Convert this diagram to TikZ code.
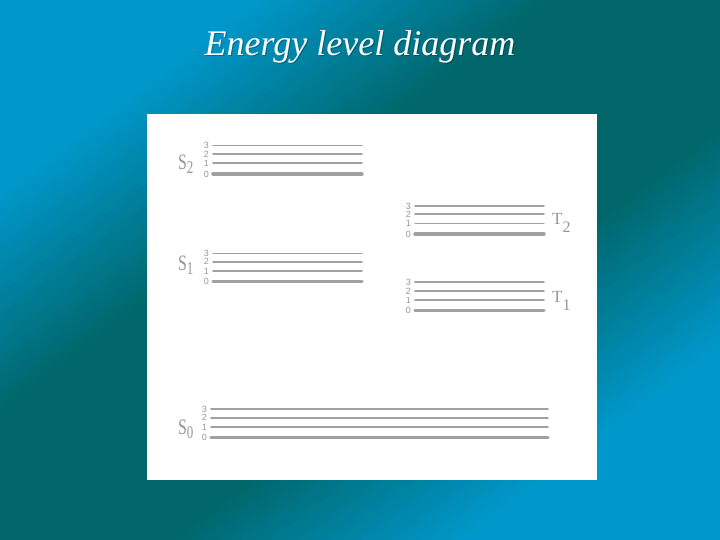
\documentclass[tikz,border=0pt]{standalone}
\usepackage{fontspec}
\setmainfont{Liberation Serif}
\setsansfont{Liberation Sans}
\definecolor{bgblue}{RGB}{0,152,204}
\definecolor{bgteal}{RGB}{0,102,106}
\definecolor{lvgray}{RGB}{160,160,160}
\definecolor{txgray}{RGB}{150,150,150}
\newcommand{\slab}[2]{#1\raisebox{-4pt}{\fontsize{18}{18}\selectfont #2}}
\newcommand{\tlab}[2]{#1\raisebox{-8pt}{\fontsize{16}{16}\selectfont #2}}
\tikzset{
 lvn/.style={draw=lvgray, line width=1.8pt, line cap=round},
 lvt/.style={draw=lvgray, line width=1.2pt, line cap=round},
 lvk/.style={draw=lvgray, line width=3.4pt, line cap=round},
 num/.style={anchor=east, inner sep=0pt, text=txgray, font=\sffamily\fontsize{9}{9}\selectfont},
 slabel/.style={anchor=base west, inner sep=0pt, text=txgray, font=\fontsize{22}{22}\selectfont, xscale=0.72},
 tlabel/.style={anchor=base west, inner sep=0pt, text=txgray, font=\fontsize{17}{17}\selectfont},
 titlefont/.style={font=\itshape\fontsize{36}{36}\selectfont, anchor=base, inner sep=0pt},
}
\begin{document}
\begin{tikzpicture}[x=1pt,y=1pt]
\useasboundingbox (0,0) rectangle (720,540);
% background gradient: blue - teal - blue across the anti-diagonal
\begin{scope}
\clip (0,0) rectangle (720,540);
\begin{scope}[rotate around={36.87:(360,270)}]
\foreach \d in {-450,-444,...,444} {
  \pgfmathsetmacro\t{min(max((abs(\d+3)-100)/180,0),1)*100}
  \fill[bgblue!\t!bgteal] (-110,270+\d) rectangle (830,270+\d+6.6);
}
\end{scope}
\end{scope}
% title with faint shadow
\node[titlefont, text=black, opacity=0.25] (titleshadow) at (361,483.5) {Energy level diagram};
\node[titlefont, text=white] (title) at (360,484.5) {Energy level diagram};
% white panel
\fill[white] (147,60) rectangle (597,426);
% S2
\foreach \y/\n/\w in {394.5/3/lvn, 386/2/lvn, 377/1/lvn, 366/0/lvk} {
  \draw[\w] (213,\y) -- (362,\y);
  \node[num] (stwo\n) at (209,\y) {\n};
}
% T2
\foreach \y/\n/\w in {334/3/lvn, 326/2/lvn, 316.5/1/lvt, 306/0/lvk} {
  \draw[\w] (415,\y) -- (544,\y);
  \node[num] (ttwo\n) at (411,\y) {\n};
}
% S1
\foreach \y/\n/\w in {286.6/3/lvt, 278.3/2/lvn, 269/1/lvn, 258.3/0/lvk} {
  \draw[\w] (213,\y) -- (362,\y);
  \node[num] (sone\n) at (209,\y) {\n};
}
% T1
\foreach \y/\n/\w in {257.6/3/lvn, 249/2/lvn, 240/1/lvn, 229.4/0/lvk} {
  \draw[\w] (415,\y) -- (544,\y);
  \node[num] (tone\n) at (411,\y) {\n};
}
% S0
\foreach \y/\n/\w in {131/3/lvn, 122.3/2/lvn, 113/1/lvn, 102.7/0/lvk} {
  \draw[\w] (211,\y) -- (548,\y);
  \node[num] (szero\n) at (207,\y) {\n};
}
% state labels
\node[slabel] (S2) at (178,370.5) {\slab{S}{2}};
\node[slabel] (S1) at (178,269) {\slab{S}{1}};
\node[slabel] (S0) at (178,105) {\slab{S}{0}};
\node[tlabel] (T2) at (552,315) {\tlab{T}{2}};
\node[tlabel] (T1) at (552,237) {\tlab{T}{1}};
\end{tikzpicture}
\end{document}
